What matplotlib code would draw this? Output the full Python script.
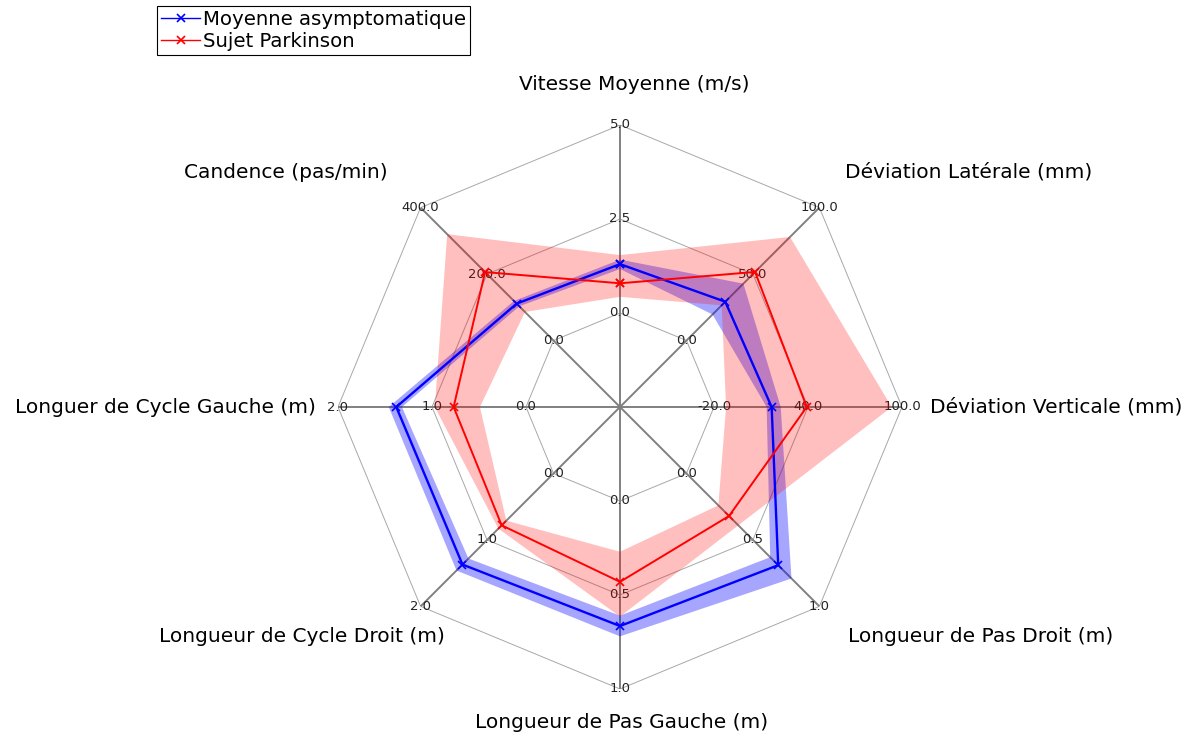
import numpy as np
import matplotlib
matplotlib.use("Agg")
import matplotlib.pyplot as plt

# axes of the radar, clockwise from top
labels = ["Vitesse Moyenne (m/s)", "Déviation Latérale (mm)", "Déviation Verticale (mm)",
          "Longueur de Pas Droit (m)", "Longueur de Pas Gauche (m)",
          "Longueur de Cycle Droit (m)", "Longuer de Cycle Gauche (m)", "Candence (pas/min)"]
axis_min = [0.0, 0.0, -20.0, 0.0, 0.0, 0.0, 0.0, 0.0]
axis_max = [5.0, 100.0, 100.0, 1.0, 1.0, 2.0, 2.0, 400.0]

# Moyenne asymptomatique (mean and band)
healthy_mean = [1.30, 29.2, 16.8, 0.69, 0.665, 1.37, 1.38, 111]
healthy_low = [1.17, 19.6, 13.6, 0.63, 0.61, 1.28, 1.32, 103]
healthy_high = [1.42, 42.8, 22.6, 0.79, 0.72, 1.46, 1.46, 119]

# Sujet Parkinson (mean and band)
park_mean = [0.79, 51.6, 39.2, 0.32, 0.43, 0.78, 0.77, 206]
park_low = [0.43, 26.5, -12.3, 0.24, 0.27, 0.71, 0.49, 86]
park_high = [1.54, 77.9, 93.4, 0.39, 0.615, 0.83, 0.97, 320]

W, H = 1191, 737
CX, CY, R = 620, 407, 282

lo = np.array(axis_min)
hi = np.array(axis_max)
n = len(labels)
theta = np.arange(n) * 2 * np.pi / n
theta_c = np.append(theta, theta[0])


def to_r(values):
    # each axis has its own scale; min value sits on the inner ring
    v = np.asarray(values, dtype=float)
    r = 0.5 + (v - lo) / (hi - lo)
    return np.append(r, r[0])


fig = plt.figure(figsize=(W / 100, H / 100), dpi=100)
ax = fig.add_axes([(CX - R) / W, (H - CY - R) / H, 2 * R / W, 2 * R / H], projection="polar")
ax.set_theta_offset(np.pi / 2)
ax.set_theta_direction(-1)
ax.set_ylim(0, 1.5)
ax.set_xticks([])
ax.set_yticks([])
ax.grid(False)
ax.spines["polar"].set_visible(False)
ax.patch.set_visible(False)

# grid: octagons and spokes
for level in [0.5, 1.0, 1.5]:
    ax.plot(theta_c, [level] * (n + 1), color="#a8a8a8", lw=0.7, zorder=1)
for t in theta:
    ax.plot([t, t], [0, 1.5], color="#808080", lw=1.4, zorder=1)

# tick labels on every spoke
for i, t in enumerate(theta):
    ticks = [lo[i], (lo[i] + hi[i]) / 2, hi[i]]
    for k, tv in enumerate(ticks):
        ax.text(t, 0.5 + k * 0.5, f"{tv:.1f}", ha="center", va="center",
                fontsize=9.5, color="#222222", zorder=2)


def band(low, high, color, alpha):
    rl = to_r(low)
    rh = to_r(high)
    ax.fill(np.concatenate([theta_c, theta_c[::-1]]), np.concatenate([rh, rl[::-1]]),
            color=color, alpha=alpha, lw=0, zorder=3)


ax.plot(theta_c, to_r(healthy_mean), color="blue", lw=1.7, marker="x", ms=6, mew=1.2,
        label="Moyenne asymptomatique", zorder=4)
band(healthy_low, healthy_high, "blue", 0.35)
ax.plot(theta_c, to_r(park_mean), color="red", lw=1.4, marker="x", ms=6, mew=1.2,
        label="Sujet Parkinson", zorder=4)
band(park_low, park_high, "red", 0.25)

# axis titles (pixel anchors)
title_pos = [(634, 85, "center"), (845, 172, "left"), (930, 407, "left"), (848, 637, "left"),
             (622, 722, "center"), (445, 637, "right"), (316, 407, "right"), (388, 172, "right")]
for lab, (x, y, ha) in zip(labels, title_pos):
    fig.text(x / W, 1 - y / H, lab, ha=ha, va="center", fontsize=14.5)

leg = fig.legend(loc="upper left", bbox_to_anchor=(157 / W, 1 - 6 / H), fontsize=14.2,
                 fancybox=False, edgecolor="black", framealpha=1, borderpad=0.2,
                 handlelength=2.0, handletextpad=0.15, labelspacing=0.15, borderaxespad=0)
for line in leg.get_lines():
    line.set_linewidth(1.0)
leg.get_frame().set_linewidth(0.8)

fig.savefig("out.png", dpi=100)
